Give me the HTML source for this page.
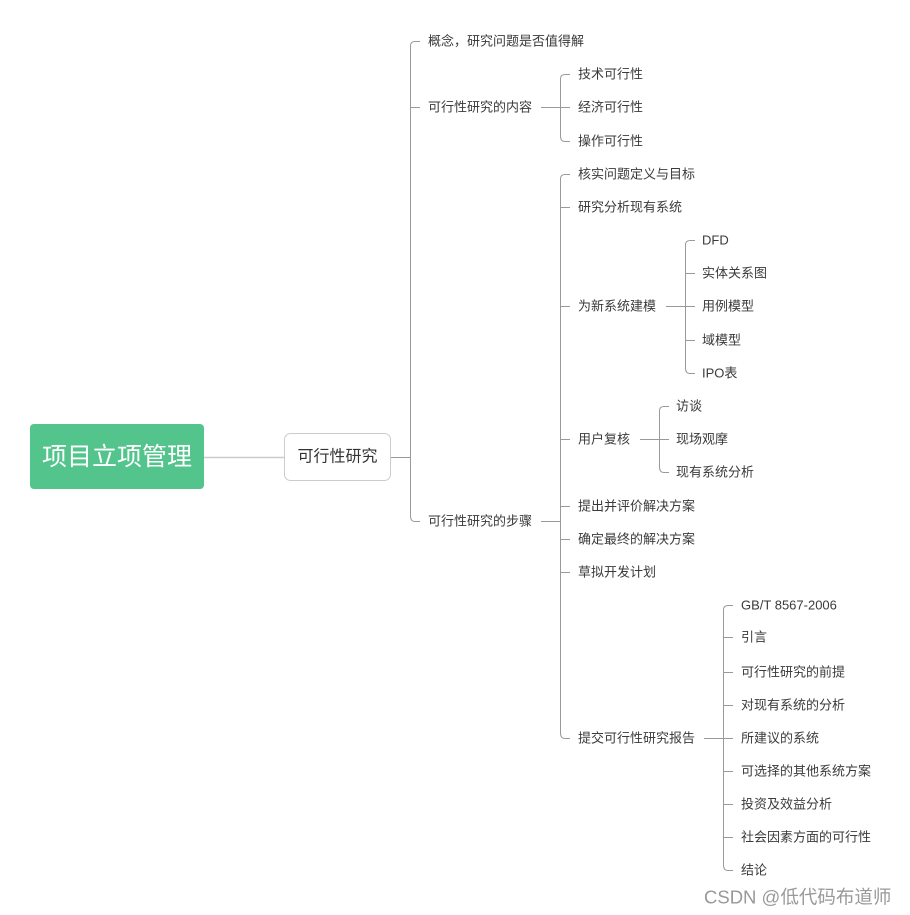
<!DOCTYPE html>
<html><head><meta charset="utf-8"><style>
html,body{margin:0;padding:0;background:#fff;width:910px;height:915px;overflow:hidden}
svg text{font-family:"Liberation Sans","Noto Sans CJK SC",sans-serif;font-size:13px;fill:#3a3a3a;dominant-baseline:central}
</style></head><body>
<svg width="910" height="915" viewBox="0 0 910 915" xmlns="http://www.w3.org/2000/svg">
<g fill="none" stroke="#9a9a9a" stroke-width="1">
<path d="M204 457.5 H284" stroke="#ccc" stroke-width="1.5"/>
<path d="M391 457.5 H410"/>
<path d="M420 41.5 H415 Q410.5 41.5 410.5 46 V516 Q410.5 521.5 415 521.5 H420"/>
<path d="M410.5 107.5 H420"/>
<path d="M541 107.5 H570"/>
<path d="M570 74.5 H565 Q560.5 74.5 560.5 79 V136 Q560.5 141.5 565 141.5 H570"/>
<path d="M541 521.5 H560"/>
<path d="M570 174.5 H565 Q560.5 174.5 560.5 179 V733 Q560.5 738.5 565 738.5 H570"/>
<path d="M560.5 207.5 H570 M560.5 306.5 H570 M560.5 439.5 H570 M560.5 506.5 H570 M560.5 539.5 H570 M560.5 572.5 H570"/>
<path d="M666 306.5 H695"/>
<path d="M695 240.5 H690 Q685.5 240.5 685.5 245 V368 Q685.5 373.5 690 373.5 H695"/>
<path d="M685.5 273.5 H695 M685.5 340.5 H695"/>
<path d="M640 439.5 H669"/>
<path d="M669 406.5 H664 Q659.5 406.5 659.5 411 V467 Q659.5 472.5 664 472.5 H669"/>
<path d="M704 738.5 H733"/>
<path d="M733 605.5 H728 Q723.5 605.5 723.5 610 V865 Q723.5 870.5 728 870.5 H733"/>
<path d="M723.5 637.5 H733 M723.5 672.5 H733 M723.5 705.5 H733 M723.5 771.5 H733 M723.5 804.5 H733 M723.5 837.5 H733"/>
</g>
<rect x="30" y="424" width="174" height="65" rx="4" fill="#52c48c"/>
<text x="117" y="457" text-anchor="middle" style="font-size:25px;fill:#fff">项目立项管理</text>
<rect x="284.5" y="433.5" width="106" height="47" rx="6" fill="#fff" stroke="#ccc"/>
<text x="337.5" y="457" text-anchor="middle" style="font-size:16px;fill:#333">可行性研究</text>
<text x="428" y="41">概念，研究问题是否值得解</text>
<text x="428" y="107">可行性研究的内容</text>
<text x="428" y="521">可行性研究的步骤</text>
<text x="578" y="74">技术可行性</text>
<text x="578" y="107">经济可行性</text>
<text x="578" y="141">操作可行性</text>
<text x="578" y="174">核实问题定义与目标</text>
<text x="578" y="207">研究分析现有系统</text>
<text x="578" y="306">为新系统建模</text>
<text x="578" y="439">用户复核</text>
<text x="578" y="506">提出并评价解决方案</text>
<text x="578" y="539">确定最终的解决方案</text>
<text x="578" y="572">草拟开发计划</text>
<text x="578" y="738">提交可行性研究报告</text>
<text x="702" y="240">DFD</text>
<text x="702" y="273">实体关系图</text>
<text x="702" y="306">用例模型</text>
<text x="702" y="340">域模型</text>
<text x="702" y="373">IPO表</text>
<text x="676" y="406">访谈</text>
<text x="676" y="439">现场观摩</text>
<text x="676" y="472">现有系统分析</text>
<text x="741" y="605">GB/T 8567-2006</text>
<text x="741" y="637">引言</text>
<text x="741" y="672">可行性研究的前提</text>
<text x="741" y="705">对现有系统的分析</text>
<text x="741" y="738">所建议的系统</text>
<text x="741" y="771">可选择的其他系统方案</text>
<text x="741" y="804">投资及效益分析</text>
<text x="741" y="837">社会因素方面的可行性</text>
<text x="741" y="870">结论</text>
<text x="704" y="897" style="font-size:18.5px;fill:#999">CSDN @低代码布道师</text>
</svg>
</body></html>
